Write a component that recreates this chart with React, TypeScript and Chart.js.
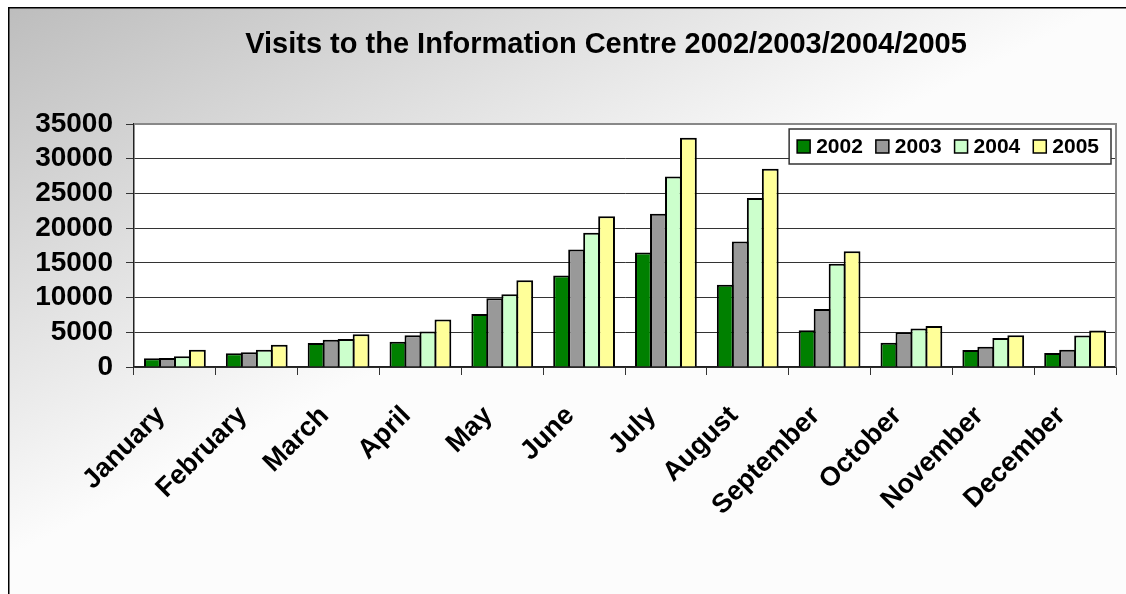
import React, { useEffect, useRef } from "react";
import { Chart, registerables } from "chart.js";

Chart.register(...registerables);

const months = [
  "January", "February", "March", "April", "May", "June",
  "July", "August", "September", "October", "November", "December",
];
const years = ["2002", "2003", "2004", "2005"];
const visits2002 = [1250, 1970, 3460, 3650, 7640, 13170, 16490, 11830, 5290, 3510, 2450, 2020];
const visits2003 = [1300, 2110, 3940, 4570, 9900, 16920, 22070, 18080, 8370, 5000, 2930, 2500];
const visits2004 = [1540, 2500, 4040, 5100, 10480, 19330, 27450, 24330, 14860, 5530, 4180, 4520];
const visits2005 = [2500, 3220, 4710, 6830, 12500, 21730, 33030, 28560, 16680, 5910, 4570, 5240];
const yTicks = [0, 5000, 10000, 15000, 20000, 25000, 30000, 35000];
const titleText = "Visits to the Information Centre 2002/2003/2004/2005";

const fills = ["#008000", "#999999", "#CCFFCC", "#FFFF99"];
const FONT = "'Liberation Sans', Arial, sans-serif";

const decorPlugin = {
  id: "decor",
  beforeDraw(chart: any) {
    const { ctx, width, height, chartArea } = chart;
    ctx.save();
    const g = ctx.createLinearGradient(0, 0, 220, 440);
    g.addColorStop(0, "#bdbdbd");
    g.addColorStop(1, "#fcfcfc");
    ctx.fillStyle = g;
    ctx.fillRect(0, 0, width, height);
    ctx.strokeStyle = "#000";
    ctx.lineWidth = 1.5;
    ctx.beginPath();
    ctx.moveTo(0.75, height);
    ctx.lineTo(0.75, 0.75);
    ctx.lineTo(width, 0.75);
    ctx.stroke();
    ctx.fillStyle = "#fff";
    ctx.fillRect(chartArea.left, chartArea.top, chartArea.right - chartArea.left, chartArea.bottom - chartArea.top);
    ctx.restore();
  },
  afterDraw(chart: any) {
    const { ctx, chartArea } = chart;
    ctx.save();
    ctx.strokeStyle = "#888";
    ctx.lineWidth = 2;
    ctx.beginPath();
    ctx.moveTo(chartArea.left, chartArea.top);
    ctx.lineTo(chartArea.right, chartArea.top);
    ctx.lineTo(chartArea.right, chartArea.bottom);
    ctx.stroke();

    // legend
    const ds = chart.data.datasets;
    ctx.font = `bold 21px ${FONT}`;
    const padL = 8, padR = 12, box = 13, gap = 6, spacing = 13;
    let w = padL + padR;
    const tw = ds.map((d: any) => ctx.measureText(d.label).width);
    ds.forEach((_: any, i: number) => {
      w += box + gap + tw[i] + (i < ds.length - 1 ? spacing : 0);
    });
    const h = 35;
    const x0 = chartArea.right - 5 - w;
    const y0 = chartArea.top + 5;
    ctx.fillStyle = "#fff";
    ctx.fillRect(x0, y0, w, h);
    ctx.strokeStyle = "#333";
    ctx.lineWidth = 1.5;
    ctx.strokeRect(x0, y0, w, h);
    let x = x0 + padL;
    const cy = y0 + h / 2;
    ds.forEach((d: any, i: number) => {
      ctx.fillStyle = d.backgroundColor;
      ctx.fillRect(x, cy - box / 2, box, box);
      ctx.strokeStyle = "#000";
      ctx.lineWidth = 1.5;
      ctx.strokeRect(x, cy - box / 2, box, box);
      x += box + gap;
      ctx.fillStyle = "#000";
      ctx.textBaseline = "middle";
      ctx.textAlign = "left";
      ctx.fillText(d.label, x, cy + 1);
      x += tw[i] + spacing;
    });
    ctx.restore();
  },
};

export default function App() {
  const ref = useRef<HTMLCanvasElement>(null);
  useEffect(() => {
    document.body.style.margin = "0";
    const series = [visits2002, visits2003, visits2004, visits2005];
    const chart = new Chart(ref.current!, {
      type: "bar",
      data: {
        labels: months,
        datasets: years.map((y, i) => ({
          label: y,
          data: series[i],
          backgroundColor: fills[i],
          borderColor: "#000",
          borderWidth: 2,
          categoryPercentage: 0.733,
          barPercentage: 1.12,
          yAxisID: "y",
        })),
      },
      options: {
        responsive: false,
        animation: false,
        devicePixelRatio: 1,
        layout: { padding: { left: 0, top: 0, right: 0, bottom: 0 } },
        plugins: {
          legend: { display: false },
          tooltip: { enabled: false },
          title: {
            display: true,
            text: titleText,
            color: "#000",
            font: { family: FONT, size: 29, weight: "bold", lineHeight: 1.2 },
            padding: { top: 21, bottom: 61.2 },
          },
        },
        scales: {
          x: {
            afterFit: (s: any) => { s.height = 260; },
            grid: { offset: true, drawOnChartArea: false, tickLength: 8, color: "#333", lineWidth: 1 },
            border: { color: "#222", width: 1.5 },
            ticks: {
              autoSkip: false,
              minRotation: 45,
              maxRotation: 45,
              padding: 25,
              labelOffset: -14,
              color: "#000",
              font: { family: FONT, size: 27, weight: "bold" },
            },
          },
          y: {
            min: 0,
            max: 35000,
            afterFit: (s: any) => { s.width = 126; },
            afterBuildTicks: (s: any) => { s.ticks = yTicks.map((v) => ({ value: v })); },
            grid: { color: "#333", lineWidth: 1, tickLength: 8 },
            border: { color: "#222", width: 1.5 },
            ticks: {
              autoSkip: false,
              padding: 13,
              color: "#000",
              font: { family: FONT, size: 28, weight: "bold" },
              callback: (v: any) => String(v),
            },
          },
          spacer: {
            type: "linear",
            position: "right",
            display: true,
            afterFit: (s: any) => { s.width = 88; },
            grid: { display: false, drawTicks: false },
            border: { display: false },
            ticks: { display: false },
          },
        },
      },
      plugins: [decorPlugin],
    });
    return () => chart.destroy();
  }, []);
  return (
    <div style={{ position: "fixed", left: 0, top: 0, width: 1126, height: 594, overflow: "hidden", background: "#fff" }}>
      <canvas
        ref={ref}
        width={1196}
        height={620}
        style={{ position: "absolute", left: 8, top: 7, width: 1196, height: 620 }}
      />
    </div>
  );
}
